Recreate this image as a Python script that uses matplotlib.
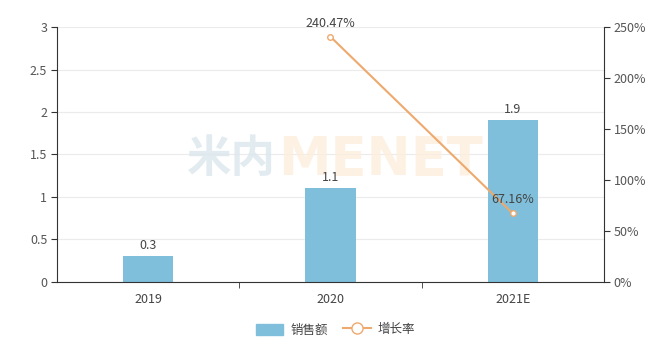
import matplotlib.pyplot as plt
from matplotlib.lines import Line2D
from matplotlib.patches import Patch

plt.rcParams['font.family'] = ['Noto Sans CJK SC', 'DejaVu Sans']

years = ["2019", "2020", "2021E"]
sales = [0.3, 1.1, 1.9]
growth_x = [1, 2]
growth = [240.47, 67.16]
growth_labels = ["240.47%", "67.16%"]

bar_color = "#7fbfdb"
line_color = "#eda96e"
text_color = "#444444"
axis_color = "#333333"

fig = plt.figure(figsize=(6.71, 3.48), dpi=100)
ax = fig.add_axes([0.085, 0.1897, 0.815, 0.7327])
ax2 = ax.twinx()

# watermark, behind the bars
ax.text(0.238, 0.43, "米内", transform=ax.transAxes, fontsize=32, fontweight="bold",
        color="#dbe7ec", alpha=0.8, zorder=1)
ax.text(0.405, 0.42, "MENET", transform=ax.transAxes, fontsize=38, fontweight="bold",
        color="#fdeedd", alpha=0.8, zorder=1, family="DejaVu Sans")

x = range(len(years))
ax.bar(x, sales, width=0.276, color=bar_color, zorder=2)
for i, v in enumerate(sales):
    ax.text(i, v + 0.05, f"{v}", ha="center", va="bottom", fontsize=9, color=text_color, zorder=4)

ax.set_xlim(-0.5, 2.5)
ax.set_ylim(0, 3)
ax.set_yticks([0, 0.5, 1, 1.5, 2, 2.5, 3])
ax.set_yticklabels(["0", "0.5", "1", "1.5", "2", "2.5", "3"])
ax.set_xticks(list(x))
ax.set_xticklabels(years)
ax.set_xticks([0.5, 1.5], minor=True)
ax.tick_params(axis="x", which="major", length=0, pad=8, labelsize=9, labelcolor=text_color)
ax.tick_params(axis="x", which="minor", length=4, color=axis_color)
ax.tick_params(axis="y", length=4, color=axis_color, labelsize=9, labelcolor="#555555", pad=3)
ax.grid(axis="y", color="#ebebeb", linewidth=0.8, zorder=0)
ax.set_axisbelow(True)
for s in ["top", "right"]:
    ax.spines[s].set_visible(False)
ax.spines["left"].set_color(axis_color)
ax.spines["bottom"].set_color(axis_color)

ax2.plot(growth_x, growth, color=line_color, linewidth=1.5, marker="o", markersize=4,
         markerfacecolor="white", markeredgecolor=line_color, markeredgewidth=1, zorder=3)
for xx, v, lab in zip(growth_x, growth, growth_labels):
    ax2.text(xx, v + 7, lab, ha="center", va="bottom", fontsize=9, color=text_color)
ax2.set_ylim(0, 250)
ax2.set_yticks([0, 50, 100, 150, 200, 250])
ax2.set_yticklabels(["0%", "50%", "100%", "150%", "200%", "250%"])
ax2.tick_params(axis="y", length=4, color=axis_color, labelsize=9, labelcolor="#555555", pad=3)
for s in ["top", "left", "bottom"]:
    ax2.spines[s].set_visible(False)
ax2.spines["right"].set_color(axis_color)

handles = [
    Patch(facecolor=bar_color, edgecolor=bar_color, label="销售额"),
    Line2D([0], [0], color=line_color, linewidth=1.5, marker="o", markersize=8,
           markerfacecolor="white", markeredgecolor=line_color, label="增长率"),
]
fig.legend(handles=handles, loc="center", bbox_to_anchor=(0.5, 0.052), ncol=2,
           frameon=False, fontsize=9, handlelength=2.2, handleheight=1.0,
           columnspacing=1.2, handletextpad=0.6, labelcolor=text_color)

fig.savefig("out.png", dpi=100)
